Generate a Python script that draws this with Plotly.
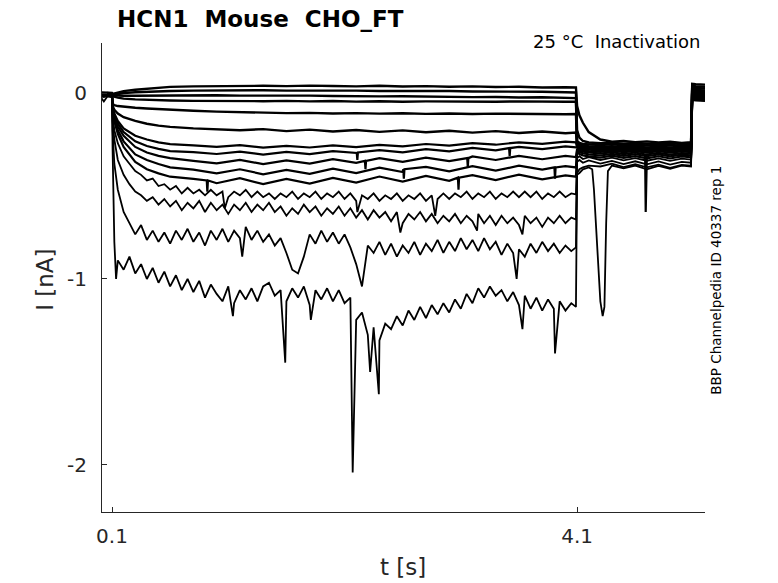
"""HCN1 (mouse, CHO_FT) inactivation sweeps at 25 °C - overlaid black current
traces in the plain MATLAB look of the Channelpedia figures.
"""
import plotly.graph_objects as go

# sample times [s]: holding, test step (0.1 - 4.1 s), tail, return to holding
T_PRE = [0.0, 0.03, 0.06, 0.1]
T_STEP = [0.105, 0.12, 0.15, 0.2, 0.3, 0.4, 0.5, 0.6, 0.8, 1.0, 1.2, 1.4, 1.6,
          1.8, 2.0, 2.2, 2.4, 2.6, 2.8, 3.0, 3.2, 3.4, 3.6, 3.8, 4.0, 4.09]
T_FINE_STEP = [0.105, 0.12] + [round(0.15 + 0.05 * i, 2) for i in range(79)] + [4.09]
T_TAIL = [4.10, 4.12, 4.15, 4.2, 4.3, 4.4, 4.5, 4.6, 4.7, 4.8, 4.9, 5.0,
          5.08, 5.09, 5.12, 5.2]
T_COARSE = T_PRE + T_STEP + T_TAIL
T_FINE = T_PRE + T_FINE_STEP + T_TAIL

# current [nA], one list per sweep (top to bottom)
I1 = ([0.004, 0.002, 0.003, 0.0]
      + [-0.005, -0.002, 0.004, 0.01, 0.018, 0.024, 0.029, 0.033, 0.036, 0.038, 0.036, 0.039, 0.037,
         0.04, 0.038, 0.036, 0.039, 0.035, 0.037, 0.034, 0.036, 0.032, 0.034, 0.03, 0.031, 0.03]
      + [-0.07, -0.12, -0.16, -0.21, -0.25, -0.262, -0.258, -0.265, -0.26, -0.266, -0.262, -0.268,
         -0.265, 0.05, 0.048, 0.045])
I2 = ([0.0, -0.004, 0.0, -0.003]
      + [-0.01, -0.008, -0.004, 0.0, 0.004, 0.007, 0.01, 0.011, 0.013, 0.014, 0.012, 0.015, 0.013,
         0.014, 0.012, 0.013, 0.011, 0.012, 0.01, 0.011, 0.008, 0.009, 0.006, 0.007, 0.004, 0.003]
      + [-0.2, -0.24, -0.258, -0.266, -0.27, -0.267, -0.272, -0.268, -0.273, -0.27, -0.274, -0.27,
         -0.272, 0.04, 0.037, 0.034])
I3 = ([-0.003, -0.006, -0.002, -0.005]
      + [-0.012, -0.013, -0.014, -0.015, -0.015, -0.014, -0.013, -0.012, -0.013, -0.012, -0.014,
         -0.013, -0.015, -0.014, -0.016, -0.015, -0.018, -0.017, -0.02, -0.019, -0.022, -0.021,
         -0.024, -0.023, -0.026, -0.027]
      + [-0.26, -0.268, -0.274, -0.277, -0.28, -0.276, -0.281, -0.277, -0.282, -0.278, -0.283,
         -0.279, -0.281, 0.03, 0.027, 0.024])
I4 = ([-0.005, -0.008, -0.004, -0.007]
      + [-0.015, -0.02, -0.025, -0.03, -0.034, -0.037, -0.039, -0.04, -0.042, -0.043, -0.041,
         -0.044, -0.042, -0.045, -0.043, -0.046, -0.044, -0.047, -0.045, -0.046, -0.044, -0.047,
         -0.045, -0.048, -0.047, -0.047]
      + [-0.27, -0.278, -0.283, -0.286, -0.29, -0.286, -0.291, -0.287, -0.292, -0.288, -0.293,
         -0.289, -0.291, 0.02, 0.017, 0.014])
I5 = ([-0.007, -0.01, -0.006, -0.009]
      + [-0.06, -0.065, -0.07, -0.074, -0.079, -0.083, -0.087, -0.09, -0.095, -0.1, -0.103, -0.105,
         -0.108, -0.107, -0.11, -0.108, -0.111, -0.109, -0.112, -0.11, -0.113, -0.111, -0.113,
         -0.112, -0.114, -0.113]
      + [-0.28, -0.286, -0.29, -0.293, -0.296, -0.292, -0.297, -0.293, -0.298, -0.294, -0.299,
         -0.295, -0.297, 0.012, 0.009, 0.006])
I6 = ([-0.008, -0.011, -0.007, -0.01]
      + [-0.07, -0.09, -0.11, -0.13, -0.15, -0.165, -0.175, -0.182, -0.19, -0.196, -0.2, -0.194,
         -0.205, -0.197, -0.207, -0.199, -0.209, -0.201, -0.211, -0.203, -0.213, -0.205, -0.215,
         -0.207, -0.216, -0.212]
      + [-0.285, -0.292, -0.296, -0.3, -0.303, -0.298, -0.304, -0.299, -0.305, -0.3, -0.306,
         -0.301, -0.303, 0.006, 0.003, 0.0])
I7 = ([-0.01, -0.013, -0.009, -0.012]
      + [-0.08, -0.11, -0.15, -0.19, -0.23, -0.25, -0.265, -0.275, -0.282, -0.29, -0.28, -0.294,
         -0.284, -0.293, -0.282, -0.291, -0.279, -0.287, -0.274, -0.283, -0.269, -0.278, -0.265,
         -0.273, -0.261, -0.265]
      + [-0.29, -0.297, -0.302, -0.306, -0.31, -0.305, -0.311, -0.306, -0.312, -0.307, -0.313,
         -0.308, -0.31, 0.0, -0.003, -0.006])
I8 = ([-0.011, -0.014, -0.01, -0.013]
      + [-0.085, -0.12, -0.165, -0.21, -0.26, -0.285, -0.3, -0.312, -0.318, -0.328, -0.315, -0.331,
         -0.317, -0.328, -0.312, -0.325, -0.307, -0.319, -0.302, -0.314, -0.295, -0.308, -0.29,
         -0.302, -0.287, -0.292]
      + [-0.295, -0.303, -0.308, -0.312, -0.316, -0.31, -0.318, -0.312, -0.32, -0.313, -0.321,
         -0.314, -0.317, -0.006, -0.009, -0.012])
I9 = ([-0.012, -0.015, -0.011, -0.014]
      + [-0.09, -0.13, -0.18, -0.23, -0.29, -0.32, -0.338, -0.35, -0.365, -0.378, -0.36, -0.382,
         -0.362, -0.38, -0.356, -0.375, -0.35, -0.37, -0.347, -0.366, -0.341, -0.36, -0.338,
         -0.356, -0.338, -0.344]
      + [-0.3, -0.31, -0.315, -0.32, -0.326, -0.318, -0.328, -0.32, -0.33, -0.322, -0.331,
         -0.323, -0.326, -0.012, -0.015, -0.018])
I10 = ([-0.013, -0.016, -0.012, -0.015]
       + [-0.095, -0.14, -0.2, -0.26, -0.33, -0.36, -0.382, -0.4, -0.412, -0.432, -0.41, -0.437,
          -0.413, -0.435, -0.407, -0.431, -0.401, -0.425, -0.397, -0.421, -0.393, -0.417, -0.391,
          -0.412, -0.393, -0.4]
       + [-0.31, -0.318, -0.324, -0.33, -0.336, -0.327, -0.338, -0.329, -0.34, -0.33, -0.341,
          -0.331, -0.335, -0.018, -0.021, -0.024])
I11 = ([-0.014, -0.017, -0.013, -0.016]
       + [-0.1, -0.15, -0.22, -0.29, -0.37, -0.41, -0.432, -0.45, -0.462, -0.485, -0.458, -0.49,
          -0.462, -0.487, -0.456, -0.482, -0.449, -0.476, -0.446, -0.472, -0.442, -0.468, -0.439,
          -0.464, -0.443, -0.45]
       + [-0.32, -0.328, -0.335, -0.341, -0.347, -0.337, -0.349, -0.339, -0.351, -0.34, -0.352,
          -0.341, -0.346, -0.022, -0.025, -0.028])
I12 = ([-0.015, -0.018, -0.014, -0.017]
       + [-0.12, -0.2]
       + [-0.27, -0.34, -0.38, -0.42, -0.44, -0.47, -0.46, -0.50, -0.49, -0.52,
          -0.50, -0.54, -0.51, -0.54, -0.52, -0.55, -0.52, -0.55, -0.53, -0.56,
          -0.53, -0.55, -0.52, -0.56, -0.53, -0.56, -0.54, -0.57, -0.54, -0.56,
          -0.53, -0.57, -0.54, -0.56, -0.53, -0.57, -0.54, -0.56, -0.53, -0.57,
          -0.54, -0.58, -0.55, -0.57, -0.54, -0.58, -0.55, -0.57, -0.54, -0.58,
          -0.55, -0.57, -0.54, -0.58, -0.55, -0.57, -0.54, -0.57, -0.54, -0.56,
          -0.53, -0.57, -0.54, -0.56, -0.53, -0.57, -0.54, -0.56, -0.53, -0.56,
          -0.53, -0.56, -0.53, -0.57, -0.54, -0.56, -0.53, -0.56, -0.54]
       + [-0.545]
       + [-0.35, -0.34, -0.355, -0.345, -0.36, -0.348, -0.362, -0.35, -0.364, -0.352, -0.365,
          -0.353, -0.358, -0.026, -0.029, -0.032])
I13 = ([-0.016, -0.019, -0.015, -0.018]
       + [-0.15, -0.25]
       + [-0.36, -0.44, -0.49, -0.53, -0.55, -0.58, -0.56, -0.60, -0.57, -0.61,
          -0.58, -0.63, -0.59, -0.62, -0.58, -0.64, -0.59, -0.63, -0.60, -0.65,
          -0.60, -0.63, -0.59, -0.64, -0.60, -0.63, -0.59, -0.64, -0.61, -0.66,
          -0.62, -0.65, -0.60, -0.64, -0.61, -0.66, -0.62, -0.65, -0.61, -0.66,
          -0.62, -0.67, -0.63, -0.68, -0.63, -0.67, -0.64, -0.69, -0.64, -0.70,
          -0.65, -0.68, -0.64, -0.69, -0.65, -0.70, -0.66, -0.69, -0.65, -0.70,
          -0.66, -0.69, -0.65, -0.70, -0.66, -0.71, -0.66, -0.70, -0.67, -0.71,
          -0.66, -0.70, -0.67, -0.72, -0.67, -0.70, -0.66, -0.70, -0.67]
       + [-0.68]
       + [-0.37, -0.36, -0.375, -0.362, -0.38, -0.365, -0.382, -0.367, -0.384, -0.368, -0.385,
          -0.37, -0.375, -0.03, -0.033, -0.036])
I14 = ([-0.018, -0.021, -0.017, -0.02]
       + [-0.2, -0.38]
       + [-0.52, -0.64, -0.70, -0.76, -0.71, -0.79, -0.74, -0.80, -0.75, -0.81,
          -0.74, -0.79, -0.73, -0.80, -0.75, -0.82, -0.74, -0.79, -0.73, -0.80,
          -0.74, -0.78, -0.72, -0.79, -0.74, -0.80, -0.76, -0.82, -0.78, -0.86,
          -0.95, -0.97, -0.88, -0.76, -0.81, -0.74, -0.80, -0.75, -0.81, -0.76,
          -0.83, -0.92, -1.04, -0.82, -0.86, -0.80, -0.87, -0.81, -0.88, -0.82,
          -0.86, -0.80, -0.87, -0.81, -0.85, -0.79, -0.86, -0.80, -0.85, -0.78,
          -0.84, -0.79, -0.85, -0.78, -0.84, -0.80, -0.87, -0.81, -0.86, -0.84,
          -0.88, -0.81, -0.86, -0.80, -0.85, -0.81, -0.86, -0.82, -0.85]
       + [-0.83]
       + [-0.43, -0.41, -0.4, -0.39, -0.395, -0.38, -0.398, -0.383, -0.4, -0.385, -0.402,
          -0.386, -0.39, -0.034, -0.037, -0.04])
I15 = ([-0.02, -0.045, -0.018, -0.022]
       + [-0.3, -0.8]
       + [-0.90, -0.95, -0.88, -0.97, -0.92, -1.00, -0.94, -1.02, -0.96, -1.04,
          -0.98, -1.06, -1.00, -1.07, -1.01, -1.10, -1.03, -1.08, -1.12, -1.04,
          -1.13, -1.06, -1.11, -1.05, -1.12, -1.04, -1.02, -1.09, -1.06, -1.12,
          -1.05, -1.10, -1.04, -1.14, -1.06, -1.11, -1.05, -1.12, -1.06, -1.13,
          -1.10, -1.22, -1.18, -1.30, -1.26, -1.33, -1.24, -1.27, -1.20, -1.25,
          -1.17, -1.22, -1.15, -1.21, -1.14, -1.19, -1.13, -1.18, -1.11, -1.16,
          -1.08, -1.13, -1.05, -1.10, -1.04, -1.09, -1.06, -1.12, -1.07, -1.14,
          -1.09, -1.16, -1.10, -1.17, -1.11, -1.16, -1.12, -1.17, -1.13]
       + [-1.15]
       + [-0.44, -0.43, -0.41, -0.40, -1.12, -0.39, -0.405, -0.39, -0.41, -0.392, -0.408,
          -0.39, -0.395, -0.038, -0.041, -0.044])

SWEEPS = [I1, I2, I3, I4, I5, I6, I7, I8, I9, I10, I11, I12, I13, I14, I15]

# short glitches seen on single sweeps: (sweep number, t [s], I [nA])
SPIKES = [
    (8, 2.205, -0.322), (8, 2.21, -0.36), (8, 2.215, -0.32),
    (8, 3.515, -0.296), (8, 3.52, -0.34), (8, 3.525, -0.296),
    (9, 2.275, -0.365), (9, 2.28, -0.41), (9, 2.285, -0.365),
    (9, 3.155, -0.35), (9, 3.16, -0.40), (9, 3.165, -0.35),
    (9, 4.685, -0.33), (9, 4.69, -0.64), (9, 4.695, -0.33),
    (10, 2.605, -0.41), (10, 2.61, -0.46), (10, 2.615, -0.41),
    (10, 3.905, -0.40), (10, 3.91, -0.46), (10, 3.915, -0.40),
    (11, 0.915, -0.47), (11, 0.92, -0.53), (11, 0.925, -0.47),
    (11, 3.075, -0.455), (11, 3.08, -0.52), (11, 3.085, -0.455),
    (12, 1.07, -0.62), (12, 2.21, -0.64), (12, 2.88, -0.66),
    (13, 2.58, -0.75), (13, 3.24, -0.74), (13, 3.63, -0.76),
    (14, 1.22, -0.88), (14, 3.58, -1.00),
    (15, 0.135, -1.00), (15, 1.14, -1.20), (15, 1.59, -1.45), (15, 1.81, -1.22),
    (15, 2.17, -2.04), (15, 2.32, -1.50), (15, 2.395, -1.62), (15, 3.63, -1.27),
    (15, 3.91, -1.40),
    (15, 4.23, -0.41), (15, 4.245, -0.52), (15, 4.27, -0.82), (15, 4.32, -1.20),
    (15, 4.335, -1.15), (15, 4.35, -0.70), (15, 4.365, -0.42),
]

TITLE = "HCN1\u00a0\u00a0Mouse\u00a0\u00a0CHO_FT"
SUBTITLE = "25 °C\u00a0\u00a0Inactivation"
SOURCE = "BBP Channelpedia ID 40337 rep 1"

FONT = "DejaVu Sans"
INK = "#262626"


def _sweep_points(k, values):
    times = T_COARSE if len(values) == len(T_COARSE) else T_FINE
    assert len(values) == len(times), (k, len(values))
    pts = list(zip(times, values))
    pts += [(t, i) for n, t, i in SPIKES if n == k]
    pts.sort(key=lambda p: p[0])
    return [p[0] for p in pts], [p[1] for p in pts]


def _line_width(k):
    # small sweeps are sampled coarsely, so a wider pen stands in for their noise band
    if k <= 6:
        return 2.4
    if k <= 11:
        return 2.2
    return 1.8


fig = go.Figure()
for k, values in enumerate(SWEEPS, start=1):
    t, cur = _sweep_points(k, values)
    fig.add_trace(go.Scatter(
        x=t, y=cur, mode="lines", line=dict(color="black", width=_line_width(k)),
        name=f"sweep {k}", showlegend=False, hoverinfo="skip",
    ))

axis_common = dict(
    showline=True, linecolor=INK, linewidth=1, mirror=False,
    ticks="inside", ticklen=5, tickcolor=INK, showgrid=False, zeroline=False,
    tickfont=dict(family=FONT, size=20, color=INK),
)
fig.update_xaxes(range=[0.014, 5.2], tickvals=[0.1, 4.1], ticktext=["0.1", "4.1"],
                 ticklabelstandoff=6, **axis_common)
fig.update_yaxes(range=[-2.253, 0.269], tickvals=[-2, -1, 0], ticktext=["-2", "-1", "0"],
                 ticklabelstandoff=10, **axis_common)

fig.update_layout(
    width=778, height=583,
    margin=dict(l=102, r=73, t=43, b=71),
    plot_bgcolor="white", paper_bgcolor="white",
    font=dict(family=FONT, color=INK),
    showlegend=False,
    annotations=[
        dict(text=f"<b>{TITLE}</b>", x=0.0216, y=1.051, xref="paper", yref="paper",
             xanchor="left", yanchor="middle", showarrow=False,
             font=dict(family=FONT, size=23, color="black")),
        dict(text=SUBTITLE, x=0.997, y=1.004, xref="paper", yref="paper",
             xanchor="right", yanchor="middle", showarrow=False,
             font=dict(family=FONT, size=18, color="black")),
        dict(text=SOURCE, x=1.018, y=0.495, xref="paper", yref="paper",
             xanchor="center", yanchor="middle", textangle=-90, showarrow=False,
             font=dict(family=FONT, size=13.5, color="black")),
        dict(text="I [nA]", x=-0.0945, y=0.495, xref="paper", yref="paper",
             xanchor="center", yanchor="middle", textangle=-90, showarrow=False,
             font=dict(family=FONT, size=23, color=INK)),
        dict(text="t [s]", x=0.499, y=-0.117, xref="paper", yref="paper",
             xanchor="center", yanchor="middle", showarrow=False,
             font=dict(family=FONT, size=23, color=INK)),
    ],
)

# drop the browser's default 8 px body margin so the figure fills the window exactly
fig.write_html("out.html", config={"displayModeBar": False},
               post_script="document.body.style.margin = '0px';")
